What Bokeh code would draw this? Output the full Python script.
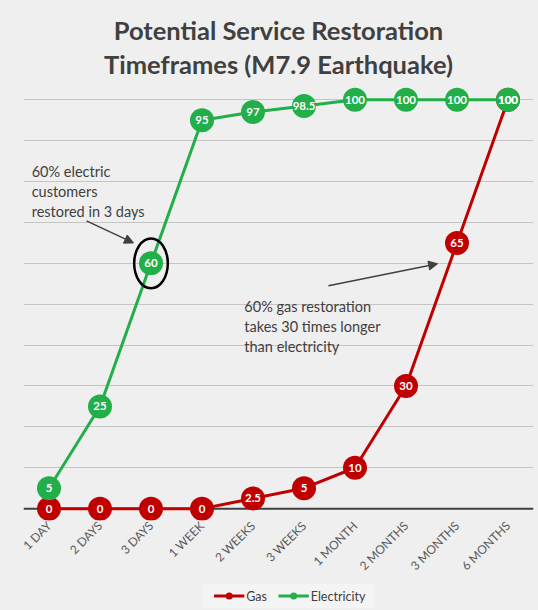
from math import pi
from bokeh.plotting import figure
from bokeh.layouts import column
from bokeh.models import (Range1d, FactorRange, Title, Arrow, NormalHead, Span,
                          FixedTicker, Label)
from bokeh.core.properties import value
from bokeh.embed import file_html
from bokeh.resources import INLINE

# ---- data ----
periods = ["1 DAY", "2 DAYS", "3 DAYS", "1 WEEK", "2 WEEKS", "3 WEEKS",
           "1 MONTH", "2 MONTHS", "3 MONTHS", "6 MONTHS"]
gas = [0, 0, 0, 0, 2.5, 5, 10, 30, 65, 100]
electricity = [5, 25, 60, 95, 97, 98.5, 100, 100, 100, 100]
grid_ticks = [10, 20, 30, 40, 50, 60, 70, 80, 90, 100]
title_lines = ["Potential Service Restoration", "Timeframes (M7.9 Earthquake)"]
note_electric = ["60% electric", "customers", "restored in 3 days"]
note_gas = ["60% gas restoration", "takes 30 times longer", "than electricity"]
series_names = ["Gas", "Electricity"]

RED = "#C00000"
GREEN = "#22AF4A"
DARK = "#404040"
BG = "#efefef"
FONT = "Lato"

p = figure(frame_width=510, frame_height=435,
           x_range=FactorRange(factors=periods),
           y_range=Range1d(-2.9, 103.5),
           output_backend="svg", toolbar_location=None,
           min_border_left=23, min_border_right=5, min_border_top=85,
           min_border_bottom=62)
p.background_fill_color = BG
p.border_fill_color = BG
p.outline_line_color = None

# two-line title: p.title sits outermost, the added Title nearer the plot
p.title.text = title_lines[0]
p.title.align = "center"
p.title.text_font = FONT
p.title.text_font_size = "25.5px"
p.title.text_font_style = "bold"
p.title.text_color = DARK
p.title.standoff = -10
p.add_layout(Title(text=title_lines[1], align="center", text_font=FONT,
                   text_font_size="25.5px", text_font_style="bold",
                   text_color=DARK, standoff=14), "above")

# axes / grid
p.yaxis.visible = False
p.xgrid.visible = False
p.ygrid.ticker = FixedTicker(ticks=grid_ticks)
p.ygrid.grid_line_color = "#c4c4c4"
p.ygrid.grid_line_width = 1
p.xaxis.axis_line_color = None
p.xaxis.major_tick_line_color = None
p.xaxis.minor_tick_line_color = None
p.xaxis.major_tick_out = 0
p.xaxis.major_tick_in = 0
p.xaxis.major_label_orientation = pi / 4
p.xaxis.major_label_text_font = FONT
p.xaxis.major_label_text_font_size = "12px"
p.xaxis.major_label_text_color = "#595959"
p.xaxis.major_label_standoff = 3

p.add_layout(Span(location=0, dimension="width", line_color=DARK,
                  line_width=2, level="underlay"))

# series
p.line(periods, gas, line_color=RED, line_width=3)
p.line(periods, electricity, line_color=GREEN, line_width=3)
p.scatter(periods, gas, size=24, fill_color=RED, line_color=None)
p.scatter(periods, electricity, size=24, fill_color=GREEN, line_color=None)

lbl_kw = dict(text_align="center", text_baseline="middle", text_color="white",
              text_font=value(FONT), text_font_style="bold",
              text_font_size="11.5px")
p.text(periods, gas, text=[f"{v:g}" for v in gas], **lbl_kw)
p.text(periods, electricity, text=[f"{v:g}" for v in electricity], **lbl_kw)

# annotation: ellipse around the 3-day electricity point
idx3 = periods.index("3 DAYS")
p.ellipse(x=[periods[idx3]], y=[electricity[idx3]], width=0.66, height=12.2,
          fill_color=None, line_color="black", line_width=2.5)

step = 4.9
for lines, x0, y0 in [(note_electric, 0.16, 82.4), (note_gas, 4.33, 49.4)]:
    for i, t in enumerate(lines):
        p.add_layout(Label(x=x0, y=y0 - i * step, text=t, text_align="left",
                           text_baseline="alphabetic", text_color=DARK,
                           text_font=FONT, text_font_size="14.5px"))

for xs, ys, xe, ye in [(1.235, 70.4, 2.157, 65.0), (5.98, 54.5, 8.12, 59.9)]:
    p.add_layout(Arrow(end=NormalHead(size=9, fill_color=DARK, line_color=DARK),
                       x_start=xs, y_start=ys, x_end=xe, y_end=ye,
                       line_color=DARK, line_width=1.5))

# ---- legend strip (drawn below the chart) ----
lg = figure(width=538, height=28, x_range=Range1d(0, 538), y_range=Range1d(0, 28),
            output_backend="svg", toolbar_location=None, min_border=0)
lg.axis.visible = False
lg.grid.visible = False
lg.outline_line_color = None
lg.background_fill_color = BG
lg.border_fill_color = BG
lg.quad(left=[188], right=[370], bottom=[2], top=[27], fill_color="#f4f4f4",
        line_color=None)
key_x = [201, 269]
for name, color, kx in zip(series_names, [RED, GREEN], key_x):
    lg.line([kx, kx + 32], [14.5, 14.5], line_color=color, line_width=3)
    lg.scatter([kx + 16], [14.5], size=7, fill_color=color, line_color=None)
    lg.text([kx + 34], [14.5], text=[name], text_baseline="middle",
            text_align="left", text_color=DARK, text_font=value(FONT),
            text_font_size="12.5px")

layout = column(p, lg, spacing=0, styles={"background-color": BG})
open("out.html", "w").write(file_html(layout, INLINE))
